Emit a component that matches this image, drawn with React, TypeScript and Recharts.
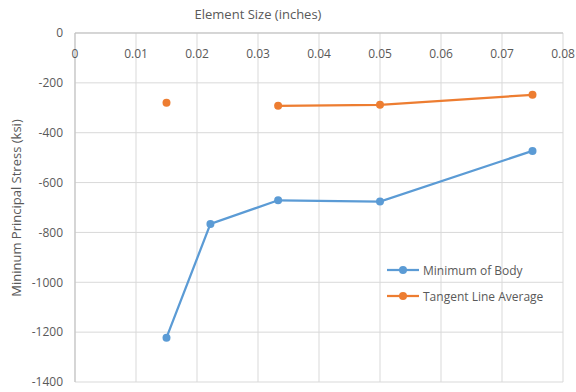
import { LineChart, Line, XAxis, YAxis, CartesianGrid } from 'recharts';

const elementSizes = [0.015, 0.0222, 0.0333, 0.05, 0.075];
const minimumOfBody = [-1222, -766, -671, -676, -473];
const tangentLineAverage = [-280, null, -292, -288, -248];

const xTicks = [0, 0.01, 0.02, 0.03, 0.04, 0.05, 0.06, 0.07, 0.08];
const yTicks = [0, -200, -400, -600, -800, -1000, -1200, -1400];

const BLUE = '#5B9BD5';
const ORANGE = '#ED7D31';
const TEXT = '#595959';
const FONT = '"Open Sans", sans-serif';

const data = elementSizes.map((x, i) => ({
  x,
  body: minimumOfBody[i],
  tangent: tangentLineAverage[i],
}));

const legendItems = [
  { name: 'Minimum of Body', color: BLUE },
  { name: 'Tangent Line Average', color: ORANGE },
];

function LegendBox() {
  return (
    <div style={{ position: 'absolute', left: 386, top: 257, fontFamily: FONT, fontSize: 12, color: TEXT }}>
      {legendItems.map((item) => (
        <div key={item.name} style={{ display: 'flex', alignItems: 'center', height: 26 }}>
          <svg width={34} height={10} style={{ marginRight: 3 }}>
            <line x1={1} y1={5} x2={33} y2={5} stroke={item.color} strokeWidth={2.25} />
            <circle cx={17} cy={5} r={4} fill={item.color} />
          </svg>
          <span>{item.name}</span>
        </div>
      ))}
    </div>
  );
}

export default function App() {
  return (
    <div style={{ position: 'absolute', left: 0, top: 0, width: 576, height: 392, background: '#fff' }}>
      <LineChart width={576} height={392} data={data} margin={{ top: 33, right: 13, bottom: 10, left: 0 }}>
        <CartesianGrid stroke="#D9D9D9" strokeWidth={1} />
        <XAxis
          dataKey="x"
          type="number"
          orientation="top"
          mirror
          height={1}
          domain={[0, 0.08]}
          ticks={xTicks}
          interval={0}
          tickSize={0}
          tickMargin={16}
          tick={{ fill: TEXT, fontSize: 12, fontFamily: FONT }}
          stroke="#BFBFBF"
          label={{
            content: () => (
              <text x={258} y={19} textAnchor="middle" fill={TEXT} fontSize={13} fontFamily={FONT}>
                Element Size (inches)
              </text>
            ),
          }}
        />
        <YAxis
          type="number"
          width={75}
          domain={[-1400, 0]}
          ticks={yTicks}
          interval={0}
          tickSize={0}
          tickMargin={12}
          tick={{ fill: TEXT, fontSize: 12, fontFamily: FONT }}
          stroke="#BFBFBF"
          label={{
            content: () => (
              <text
                x={16}
                y={208}
                textAnchor="middle"
                dominantBaseline="central"
                transform="rotate(-90, 16, 208)"
                fill={TEXT}
                fontSize={13}
                fontFamily={FONT}
              >
                Mininum Principal Stress (ksi)
              </text>
            ),
          }}
        />
        <Line
          dataKey="body"
          name="Minimum of Body"
          type="linear"
          stroke={BLUE}
          strokeWidth={2.25}
          dot={{ r: 4, fill: BLUE, stroke: BLUE, strokeWidth: 0 }}
          isAnimationActive={false}
        />
        <Line
          dataKey="tangent"
          name="Tangent Line Average"
          type="linear"
          stroke={ORANGE}
          strokeWidth={2.25}
          connectNulls={false}
          dot={{ r: 4, fill: ORANGE, stroke: ORANGE, strokeWidth: 0 }}
          isAnimationActive={false}
        />
      </LineChart>
      <LegendBox />
    </div>
  );
}
